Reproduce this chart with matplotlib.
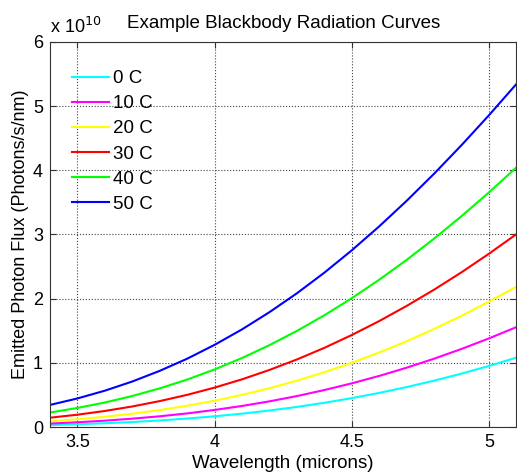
import matplotlib
matplotlib.use('Agg')
import matplotlib.pyplot as plt

plt.rcParams['font.family'] = ['Liberation Sans', 'DejaVu Sans']

# wavelength in microns
wavelength = [3.4, 3.5, 3.6, 3.7, 3.8, 3.9, 4.0, 4.1, 4.2, 4.3, 4.4, 4.5,
              4.6, 4.7, 4.8, 4.9, 5.0, 5.1]

# emitted photon flux, units of 1e10 photons/s/nm
flux_0c = [0.031, 0.043, 0.059, 0.078, 0.102, 0.132, 0.167, 0.208, 0.257,
           0.313, 0.377, 0.450, 0.531, 0.622, 0.722, 0.832, 0.951, 1.081]
flux_10c = [0.054, 0.074, 0.099, 0.130, 0.167, 0.212, 0.266, 0.328, 0.400,
            0.482, 0.576, 0.680, 0.796, 0.924, 1.064, 1.216, 1.380, 1.556]
flux_20c = [0.090, 0.121, 0.160, 0.207, 0.264, 0.331, 0.410, 0.501, 0.604,
            0.722, 0.854, 1.000, 1.161, 1.336, 1.527, 1.732, 1.952, 2.186]
flux_30c = [0.145, 0.192, 0.250, 0.320, 0.404, 0.501, 0.614, 0.743, 0.889,
            1.052, 1.233, 1.433, 1.650, 1.886, 2.139, 2.410, 2.699, 3.003]
flux_40c = [0.226, 0.297, 0.382, 0.483, 0.602, 0.739, 0.897, 1.075, 1.275,
            1.497, 1.740, 2.006, 2.294, 2.603, 2.934, 3.284, 3.654, 4.042]
flux_50c = [0.344, 0.445, 0.566, 0.709, 0.875, 1.064, 1.280, 1.521, 1.789,
            2.083, 2.404, 2.752, 3.125, 3.523, 3.945, 4.390, 4.856, 5.342]

series = [flux_0c, flux_10c, flux_20c, flux_30c, flux_40c, flux_50c]
labels = ['0 C', '10 C', '20 C', '30 C', '40 C', '50 C']
colors = ['#00ffff', '#ff00ff', '#ffff00', '#ff0000', '#00ff00', '#0000ff']

fig = plt.figure(figsize=(5.17, 4.72), dpi=100)
ax = fig.add_axes([0.0967, 0.0953, 0.902, 0.816])

for y, lab, c in zip(series, labels, colors):
    ax.plot(wavelength, y, color=c, lw=1.5, label=lab)

ax.set_xlim(3.4, 5.1)
ax.set_ylim(0, 6)
ax.set_xticks([3.5, 4, 4.5, 5])
ax.set_xticklabels(['3.5', '4', '4.5', '5'])
ax.set_yticks([0, 1, 2, 3, 4, 5, 6])
ax.grid(True, linestyle=':', color='#444444', lw=0.8)
ax.tick_params(direction='in', top=True, right=True, length=4,
               labelsize=13, color='#333333', pad=5)
for s in ax.spines.values():
    s.set_color('#333333')
    s.set_linewidth(0.8)

ax.set_xlabel('Wavelength (microns)', fontsize=13.5, labelpad=3)
ax.set_ylabel('Emitted Photon Flux (Photons/s/nm)', fontsize=13, labelpad=3)
ax.set_title('Example Blackbody Radiation Curves', fontsize=13.5, pad=10)
ax.text(0.0, 1.012, r'x 10$^{10}$', transform=ax.transAxes, fontsize=13,
        ha='left', va='bottom')

ax.legend(loc='upper left', bbox_to_anchor=(0.047, 0.927), frameon=False,
          fontsize=13.5, borderpad=0, borderaxespad=0, handlelength=2.0,
          handletextpad=0.2, labelspacing=0.43)

fig.savefig('out.png', dpi=100)
